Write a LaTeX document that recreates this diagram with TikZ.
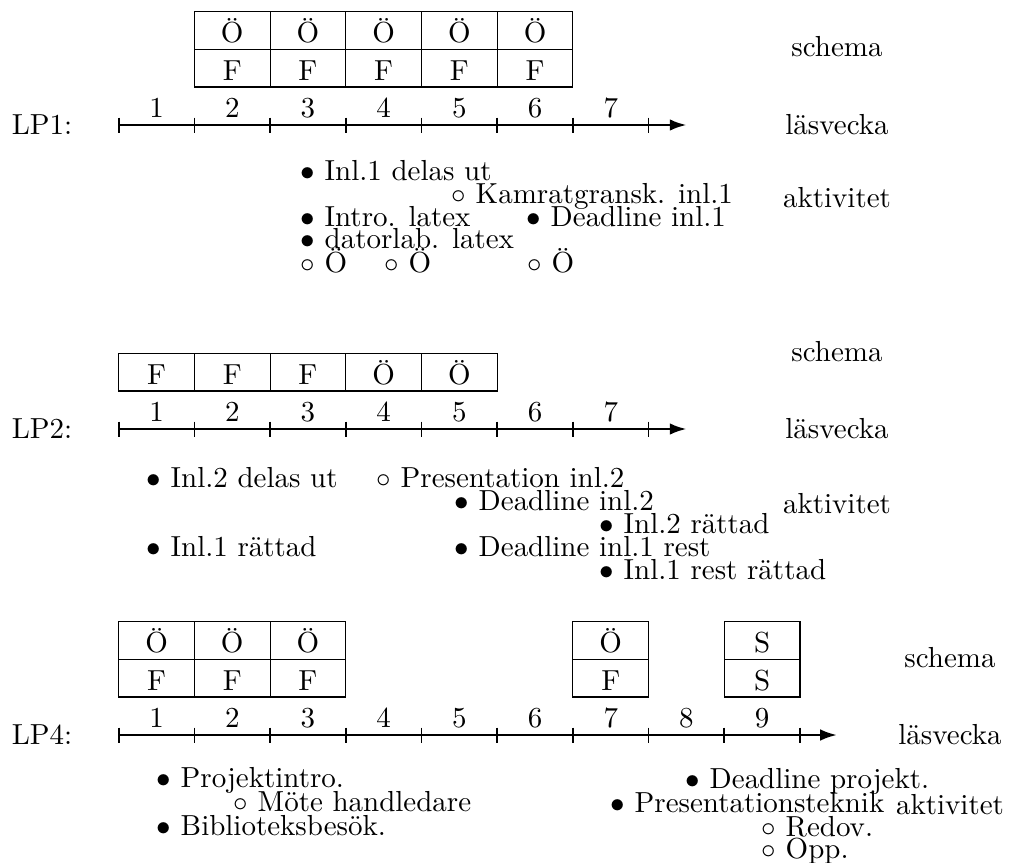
\documentclass[tikz,border=0pt]{standalone}
\usepackage{fontspec}
\usetikzlibrary{arrows.meta}
\begin{document}
\begin{tikzpicture}[x=0.345pt,y=-0.345pt,
  cell/.style={draw,line width=0.4pt,minimum width=26.12pt,minimum height=13pt,inner sep=0pt,text height=8.4pt,text depth=0pt},
  wk/.style={anchor=base,inner sep=0pt},
  item/.style={anchor=base west,inner sep=0pt},
  side/.style={inner sep=0pt},
  axisline/.style={line width=0.9pt,-{Latex[length=5.8pt,width=4pt]}},
  tickmark/.style={line width=0.6pt}]
\useasboundingbox (0,0) rectangle (1011,862);

% ---------------- LP1 ----------------
\node[side] (lp1) at (42,125) {LP1:};
\coordinate (s1) at (118.7,125);
\coordinate (e1) at (686.6,125);
\draw[axisline] (s1) -- (e1);
\foreach \k in {0,...,7} \draw[tickmark] ({118.7+75.7*\k},117.5) -- ++(0,15);
\foreach \k in {1,...,7} \node[wk] (w1n\k) at ({118.7+75.7*(\k-0.5)},117) {\k};
\foreach \k in {2,...,6} {
  \node[cell] (p1t\k) at ({118.7+75.7*(\k-0.5)},30.45) {Ö};
  \node[cell] (p1b\k) at ({118.7+75.7*(\k-0.5)},68.15) {F};
}
\node[side] (sch1) at (837,47) {schema};
\node[side] (las1) at (837,125) {läsvecka};
\node[side] (akt1) at (837,198) {aktivitet};
\node[item] (a11) at (300,180) {$\bullet$ Inl.1 delas ut};
\node[item] (a12) at (451,203) {$\circ$ Kamratgransk. inl.1};
\node[item] (a13) at (300,226) {$\bullet$ Intro. latex};
\node[item] (a14) at (526,226) {$\bullet$ Deadline inl.1};
\node[item] (a15) at (300,248) {$\bullet$ datorlab. latex};
\node[item] (a16) at (300,272) {$\circ$ Ö};
\node[item] (a17) at (384,272) {$\circ$ Ö};
\node[item] (a18) at (527,272) {$\circ$ Ö};

% ---------------- LP2 ----------------
\node[side] (lp2) at (42,429) {LP2:};
\coordinate (s2) at (118.7,429);
\coordinate (e2) at (686.6,429);
\draw[axisline] (s2) -- (e2);
\foreach \k in {0,...,7} \draw[tickmark] ({118.7+75.7*\k},421.5) -- ++(0,15);
\foreach \k in {1,...,7} \node[wk] (w2n\k) at ({118.7+75.7*(\k-0.5)},421) {\k};
\foreach \k/\t in {1/F,2/F,3/F,4/Ö,5/Ö}
  \node[cell] (p2\k) at ({118.7+75.7*(\k-0.5)},372.15) {\t};
\node[side] (sch2) at (837,352) {schema};
\node[side] (las2) at (837,429) {läsvecka};
\node[side] (akt2) at (837,504) {aktivitet};
\node[item] (a21) at (146,487) {$\bullet$ Inl.2 delas ut};
\node[item] (a22) at (376,487) {$\circ$ Presentation inl.2};
\node[item] (a23) at (454,510) {$\bullet$ Deadline inl.2};
\node[item] (a24) at (599,533) {$\bullet$ Inl.2 rättad};
\node[item] (a25) at (146,556) {$\bullet$ Inl.1 rättad};
\node[item] (a26) at (454,556) {$\bullet$ Deadline inl.1 rest};
\node[item] (a27) at (599,579) {$\bullet$ Inl.1 rest rättad};

% ---------------- LP4 ----------------
\node[side] (lp4) at (42,735) {LP4:};
\coordinate (s4) at (118.7,735);
\coordinate (e4) at (837,735);
\draw[axisline] (s4) -- (e4);
\foreach \k in {0,...,9} \draw[tickmark] ({118.7+75.7*\k},727.5) -- ++(0,15);
\foreach \k in {1,...,9} \node[wk] (w4n\k) at ({118.7+75.7*(\k-0.5)},727) {\k};
\foreach \k/\t/\b in {1/Ö/F,2/Ö/F,3/Ö/F,7/Ö/F,9/S/S} {
  \node[cell] (p4t\k) at ({118.7+75.7*(\k-0.5)},640.45) {\t};
  \node[cell] (p4b\k) at ({118.7+75.7*(\k-0.5)},678.15) {\b};
}
\node[side] (sch4) at (950,658) {schema};
\node[side] (las4) at (950,735) {läsvecka};
\node[side] (akt4) at (950,805) {aktivitet};
\node[item] (a41) at (156,787) {$\bullet$ Projektintro.};
\node[item] (a42) at (233,811) {$\circ$ Möte handledare};
\node[item] (a43) at (156,835) {$\bullet$ Biblioteksbesök.};
\node[item] (a44) at (685,788) {$\bullet$ Deadline projekt.};
\node[item] (a45) at (610,812) {$\bullet$ Presentationsteknik};
\node[item] (a46) at (761,836) {$\circ$ Redov.};
\node[item] (a47) at (761,858) {$\circ$ Opp.};
\end{tikzpicture}
\end{document}
